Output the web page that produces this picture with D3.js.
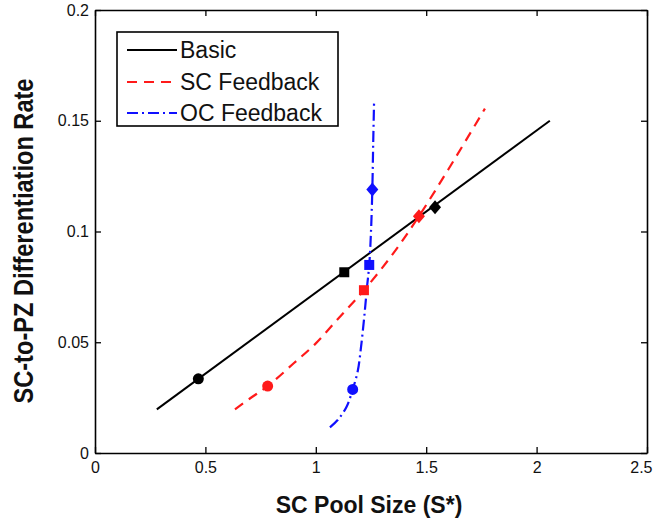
<!DOCTYPE html>
<html>
<head>
<meta charset="utf-8">
<script src="https://cdn.jsdelivr.net/npm/d3@7"></script>
<style>
  html, body { margin: 0; padding: 0; background: #fff; }
  svg { display: block; }
  text { font-family: "Liberation Sans", Arial, Helvetica, sans-serif; }
</style>
</head>
<body>
<svg id="chart" width="653" height="519"></svg>
<script>
// ---------------- data ----------------
const xTicks = [0, 0.5, 1, 1.5, 2, 2.5];
const xTickLabels = ["0", "0.5", "1", "1.5", "2", "2.5"];
const yTicks = [0, 0.05, 0.1, 0.15, 0.2];
const yTickLabels = ["0", "0.05", "0.1", "0.15", "0.2"];

const seriesNames = ["Basic", "SC Feedback", "OC Feedback"];

const basicX = [0.28, 2.06];
const basicY = [0.0197, 0.150];

const scX = [0.634, 0.70, 0.782, 0.90, 1.00, 1.10, 1.218, 1.35, 1.467, 1.60, 1.766];
const scY = [0.0197, 0.0245, 0.0302, 0.0405, 0.0495, 0.0605, 0.0735, 0.090, 0.1069, 0.128, 0.1555];

const ocX = [1.064, 1.10, 1.14, 1.167, 1.19, 1.205, 1.218, 1.232, 1.242, 1.250, 1.256, 1.260, 1.264];
const ocY = [0.0116, 0.0150, 0.0210, 0.0287, 0.037, 0.048, 0.060, 0.075, 0.0849, 0.100, 0.119, 0.140, 0.159];

// markers: circle, square, diamond
const markerShapes = ["circle", "square", "diamond"];
const basicMarkX = [0.468, 1.129, 1.54];
const basicMarkY = [0.0335, 0.0816, 0.111];
const scMarkX = [0.782, 1.218, 1.467];
const scMarkY = [0.0302, 0.0735, 0.1069];
const ocMarkX = [1.167, 1.242, 1.256];
const ocMarkY = [0.0287, 0.0849, 0.119];

// ---------------- layout ----------------
const svg = d3.select("#chart");
const mLeft = 95, mRight = 647, mTop = 10, mBottom = 453;
const x = d3.scaleLinear().domain([0, 2.5]).range([mLeft, mRight]);
const y = d3.scaleLinear().domain([0, 0.2]).range([mBottom, mTop]);

const colors = { basic: "#000000", sc: "#ff1a1a", oc: "#1010ff" };
const styles = [
  { color: colors.basic, dash: null, width: 2 },
  { color: colors.sc, dash: "10,7", width: 2.2 },
  { color: colors.oc, dash: "11,4,2,4", width: 2.2 }
];

// axes
function styleAxis(g) {
  g.selectAll("path.domain").attr("stroke", "#000").attr("stroke-width", 1.6);
  g.selectAll(".tick line").attr("stroke", "#000").attr("stroke-width", 1.3);
  g.selectAll("text").attr("fill", "#111").style("font-size", "16px")
    .style("font-family", "'Liberation Sans', Arial, sans-serif");
}

const xAxisG = svg.append("g").attr("transform", `translate(0,${mBottom})`)
  .call(d3.axisBottom(x).tickValues(xTicks).tickFormat((d, i) => xTickLabels[i])
    .tickSizeInner(-6).tickSizeOuter(0).tickPadding(9))
  .call(styleAxis);
// keep the last label inside the picture (as in the reference)
xAxisG.selectAll(".tick text").filter((d, i) => i === xTicks.length - 1)
  .attr("text-anchor", "end").attr("x", 5);

svg.append("g").attr("transform", `translate(0,${mTop})`)
  .call(d3.axisTop(x).tickValues(xTicks).tickFormat("").tickSizeInner(-6).tickSizeOuter(0))
  .call(styleAxis);
svg.append("g").attr("transform", `translate(${mLeft},0)`)
  .call(d3.axisLeft(y).tickValues(yTicks).tickFormat((d, i) => yTickLabels[i])
    .tickSizeInner(-6).tickSizeOuter(0).tickPadding(6))
  .call(styleAxis);
svg.append("g").attr("transform", `translate(${mRight},0)`)
  .call(d3.axisRight(y).tickValues(yTicks).tickFormat("").tickSizeInner(-6).tickSizeOuter(0))
  .call(styleAxis);

// axis titles
svg.append("text")
  .attr("x", 369).attr("y", 513)
  .attr("text-anchor", "middle")
  .style("font-size", "23px").style("font-weight", "bold")
  .attr("fill", "#111")
  .text("SC Pool Size (S*)");

svg.append("text")
  .attr("transform", "translate(33,241) rotate(-90)")
  .attr("text-anchor", "middle")
  .attr("textLength", 325).attr("lengthAdjust", "spacingAndGlyphs")
  .style("font-size", "27px").style("font-weight", "bold")
  .attr("fill", "#111")
  .text("SC-to-PZ Differentiation Rate");

// lines
const lineGen = d3.line().x(d => x(d[0])).y(d => y(d[1]));
const lineCurve = d3.line().x(d => x(d[0])).y(d => y(d[1])).curve(d3.curveCatmullRom.alpha(0.5));

const seriesData = [
  { xs: basicX, ys: basicY, gen: lineGen, mx: basicMarkX, my: basicMarkY },
  { xs: scX, ys: scY, gen: lineCurve, mx: scMarkX, my: scMarkY },
  { xs: ocX, ys: ocY, gen: lineCurve, mx: ocMarkX, my: ocMarkY }
];

seriesData.forEach((s, i) => {
  const pts = s.xs.map((v, j) => [v, s.ys[j]]);
  svg.append("path")
    .attr("d", s.gen(pts))
    .attr("fill", "none")
    .attr("stroke", styles[i].color)
    .attr("stroke-width", styles[i].width)
    .attr("stroke-dasharray", styles[i].dash);
});

// markers
function markerPath(shape, cx, cy) {
  if (shape === "circle") {
    const r = 5.5;
    return `M${cx - r},${cy}a${r},${r} 0 1,0 ${2 * r},0a${r},${r} 0 1,0 ${-2 * r},0Z`;
  } else if (shape === "square") {
    const h = 5;
    return `M${cx - h},${cy - h}h${2 * h}v${2 * h}h${-2 * h}Z`;
  } else {
    const w = 6, h = 7;
    return `M${cx},${cy - h}L${cx + w},${cy}L${cx},${cy + h}L${cx - w},${cy}Z`;
  }
}
seriesData.forEach((s, i) => {
  s.mx.forEach((v, j) => {
    svg.append("path")
      .attr("d", markerPath(markerShapes[j], x(v), y(s.my[j])))
      .attr("fill", styles[i].color);
  });
});

// legend
const lg = svg.append("g");
lg.append("rect")
  .attr("x", 117).attr("y", 32).attr("width", 221).attr("height", 94)
  .attr("fill", "#fff").attr("stroke", "#000").attr("stroke-width", 1.6);
const rowY = [50, 82, 113];
seriesNames.forEach((name, i) => {
  lg.append("line")
    .attr("x1", 127).attr("x2", 177).attr("y1", rowY[i]).attr("y2", rowY[i])
    .attr("stroke", styles[i].color).attr("stroke-width", styles[i].width)
    .attr("stroke-dasharray", styles[i].dash);
  lg.append("text")
    .attr("x", 180).attr("y", rowY[i] + 8)
    .style("font-size", "23px").attr("fill", "#111")
    .text(name);
});
</script>
</body>
</html>
